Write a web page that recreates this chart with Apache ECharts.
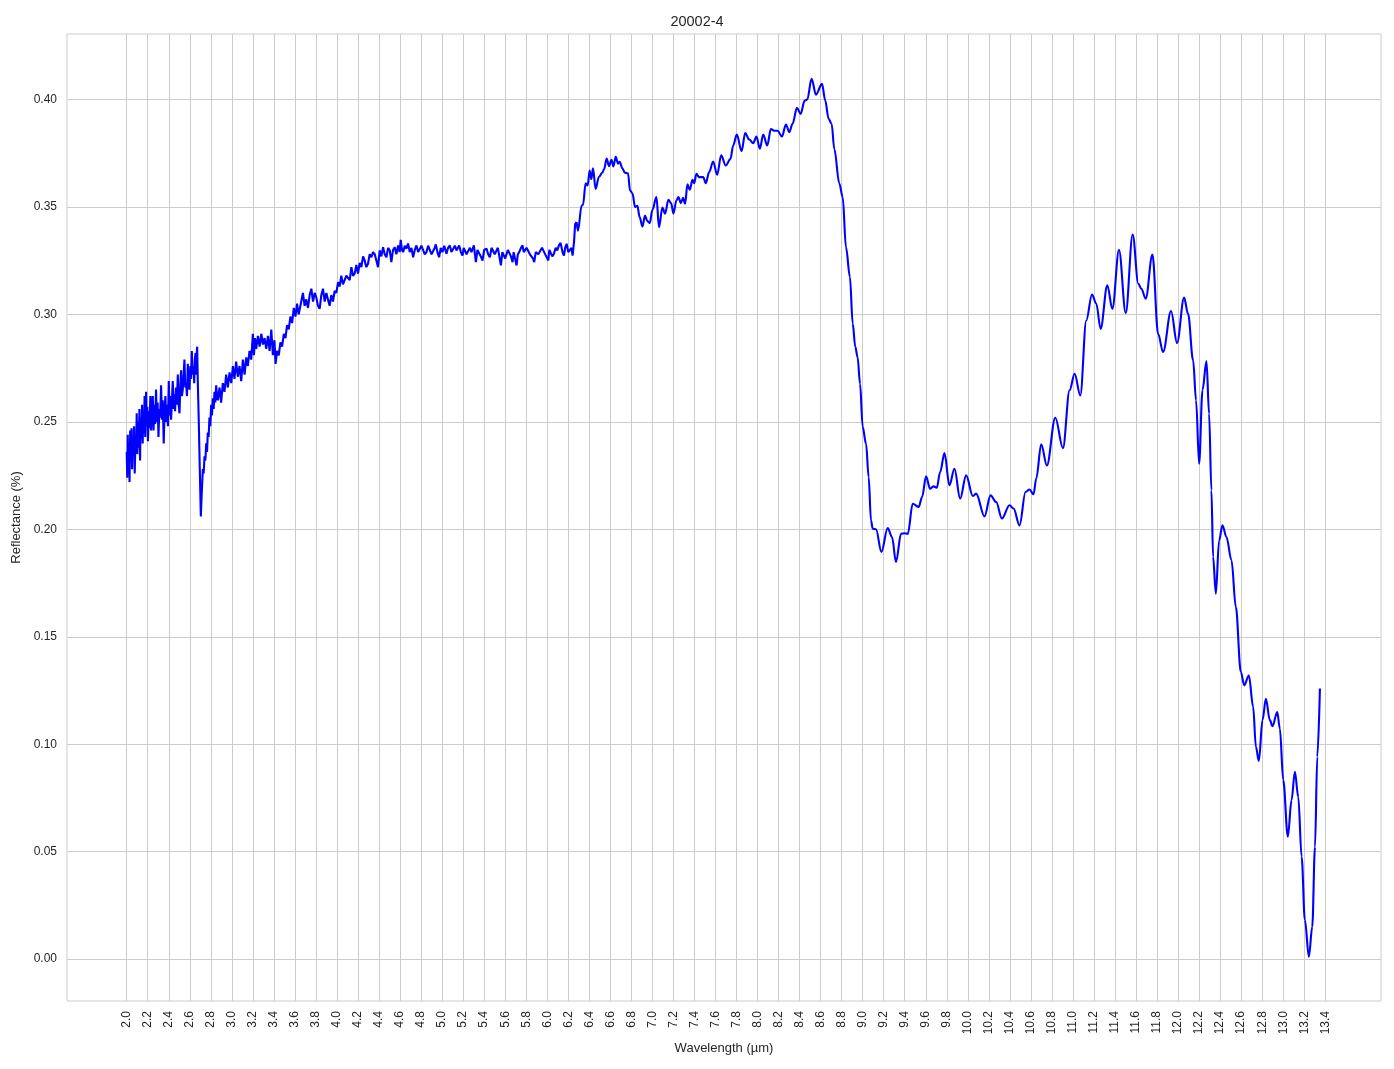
<!DOCTYPE html>
<html>
<head>
<meta charset="utf-8">
<title>20002-4</title>
<script src="https://cdn.jsdelivr.net/npm/echarts@6.0.0/dist/echarts.min.js"></script>
<style>
  html, body { margin: 0; padding: 0; background: #fff; }
  #chart { width: 1394px; height: 1069px; }
</style>
</head>
<body>
<div id="chart"></div>
<script>
// noisy part of the spectrum, 2.0 - 6.28 um (drawn without smoothing)
const waveA = [
  2.000, 2.005, 2.010, 2.016, 2.022, 2.027, 2.033, 2.040, 2.046, 2.051, 2.057, 2.063, 2.070, 2.076, 2.083, 2.089,
  2.095, 2.101, 2.108, 2.114, 2.121, 2.127, 2.133, 2.139, 2.146, 2.152, 2.158, 2.164, 2.170, 2.176, 2.184, 2.190,
  2.196, 2.202, 2.210, 2.217, 2.225, 2.232, 2.240, 2.248, 2.255, 2.263, 2.270, 2.279, 2.286, 2.294, 2.302, 2.310,
  2.318, 2.327, 2.335, 2.343, 2.352, 2.360, 2.368, 2.376, 2.384, 2.392, 2.400, 2.408, 2.415, 2.422, 2.430, 2.438,
  2.446, 2.453, 2.460, 2.468, 2.476, 2.486, 2.494, 2.502, 2.510, 2.517, 2.525, 2.533, 2.541, 2.549, 2.557, 2.565,
  2.573, 2.581, 2.589, 2.597, 2.605, 2.612, 2.619, 2.627, 2.635, 2.642, 2.648, 2.654, 2.660, 2.665, 2.670, 2.676,
  2.686, 2.695, 2.705, 2.712, 2.724, 2.732, 2.740, 2.748, 2.756, 2.764, 2.771, 2.779, 2.787, 2.795, 2.803, 2.811,
  2.819, 2.827, 2.835, 2.843, 2.851, 2.859, 2.867, 2.883, 2.898, 2.914, 2.930, 2.946, 2.962, 2.978, 2.994, 3.010,
  3.025, 3.041, 3.057, 3.073, 3.089, 3.105, 3.121, 3.137, 3.152, 3.168, 3.184, 3.200, 3.210, 3.220, 3.232, 3.248,
  3.264, 3.280, 3.295, 3.311, 3.327, 3.343, 3.359, 3.375, 3.390, 3.405, 3.416, 3.430, 3.446, 3.462, 3.478, 3.494,
  3.510, 3.525, 3.541, 3.557, 3.573, 3.589, 3.605, 3.620, 3.635, 3.644, 3.660, 3.676, 3.692, 3.708, 3.724, 3.740,
  3.756, 3.772, 3.788, 3.803, 3.819, 3.835, 3.851, 3.867, 3.883, 3.899, 3.914, 3.930, 3.946, 3.962, 3.978, 3.994,
  4.010, 4.025, 4.041, 4.057, 4.073, 4.089, 4.105, 4.121, 4.137, 4.152, 4.168, 4.184, 4.200, 4.216, 4.232, 4.248,
  4.263, 4.279, 4.295, 4.311, 4.327, 4.343, 4.359, 4.375, 4.390, 4.406, 4.422, 4.438, 4.454, 4.470, 4.486, 4.502,
  4.517, 4.533, 4.549, 4.565, 4.581, 4.596, 4.606, 4.618, 4.629, 4.645, 4.660, 4.676, 4.692, 4.708, 4.724, 4.740,
  4.756, 4.772, 4.787, 4.803, 4.819, 4.835, 4.851, 4.867, 4.883, 4.899, 4.914, 4.930, 4.940, 4.955, 4.971, 4.987,
  5.003, 5.020, 5.041, 5.057, 5.073, 5.089, 5.105, 5.121, 5.137, 5.150, 5.162, 5.178, 5.194, 5.205, 5.216, 5.232,
  5.248, 5.264, 5.279, 5.302, 5.321, 5.336, 5.352, 5.368, 5.384, 5.400, 5.422, 5.438, 5.454, 5.470, 5.486, 5.500,
  5.517, 5.530, 5.543, 5.559, 5.573, 5.587, 5.600, 5.613, 5.625, 5.638, 5.655, 5.670, 5.680, 5.692, 5.708, 5.720,
  5.733, 5.750, 5.765, 5.776, 5.787, 5.803, 5.819, 5.835, 5.851, 5.865, 5.876, 5.890, 5.898, 5.915, 5.930, 5.950,
  5.968, 5.990, 6.010, 6.020, 6.032, 6.048, 6.063, 6.080, 6.095, 6.110, 6.127, 6.145, 6.159, 6.170, 6.184, 6.200,
  6.216, 6.230, 6.241, 6.255, 6.265, 6.279
];
const reflA = [
  0.236, 0.224, 0.244, 0.226, 0.240, 0.222, 0.246, 0.232, 0.247, 0.228, 0.242, 0.235, 0.248, 0.226, 0.241, 0.236,
  0.254, 0.235, 0.250, 0.238, 0.256, 0.232, 0.252, 0.242, 0.258, 0.240, 0.254, 0.245, 0.262, 0.243, 0.264, 0.248,
  0.257, 0.241, 0.255, 0.247, 0.262, 0.246, 0.258, 0.262, 0.246, 0.258, 0.249, 0.265, 0.250, 0.259, 0.243, 0.256,
  0.252, 0.267, 0.251, 0.260, 0.240, 0.255, 0.262, 0.250, 0.258, 0.248, 0.269, 0.253, 0.262, 0.251, 0.260, 0.269,
  0.256, 0.263, 0.255, 0.266, 0.258, 0.272, 0.258, 0.254, 0.267, 0.274, 0.262, 0.265, 0.272, 0.279, 0.266, 0.268,
  0.262, 0.277, 0.268, 0.265, 0.276, 0.270, 0.283, 0.272, 0.276, 0.268, 0.279, 0.282, 0.272, 0.281, 0.285, 0.269,
  0.249, 0.228, 0.206, 0.215, 0.228, 0.226, 0.234, 0.232, 0.240, 0.236, 0.245, 0.243, 0.252, 0.248, 0.258, 0.253,
  0.261, 0.256, 0.264, 0.259, 0.267, 0.262, 0.260, 0.266, 0.259, 0.268, 0.264, 0.272, 0.266, 0.273, 0.268, 0.276,
  0.270, 0.278, 0.271, 0.276, 0.269, 0.279, 0.272, 0.280, 0.276, 0.283, 0.279, 0.291, 0.281, 0.289, 0.284, 0.290,
  0.285, 0.291, 0.286, 0.289, 0.284, 0.290, 0.283, 0.293, 0.281, 0.288, 0.277, 0.283, 0.281, 0.287, 0.285, 0.291,
  0.289, 0.295, 0.293, 0.299, 0.296, 0.303, 0.299, 0.305, 0.300, 0.302, 0.306, 0.310, 0.304, 0.307, 0.303, 0.309,
  0.312, 0.306, 0.310, 0.308, 0.304, 0.3026, 0.309, 0.312, 0.306, 0.310, 0.307, 0.304, 0.309, 0.306, 0.311, 0.310,
  0.315, 0.313, 0.318, 0.314, 0.3142, 0.318, 0.3181, 0.316, 0.322, 0.318, 0.319, 0.323, 0.319, 0.324, 0.322, 0.327,
  0.3251, 0.322, 0.3236, 0.328, 0.3266, 0.329, 0.328, 0.325, 0.322, 0.3298, 0.327, 0.3313, 0.328, 0.3266, 0.331, 0.3298,
  0.3243, 0.330, 0.3313, 0.328, 0.3321, 0.329, 0.3347, 0.330, 0.329, 0.332, 0.3306, 0.333, 0.329, 0.331, 0.3266, 0.330,
  0.3321, 0.329, 0.3282, 0.332, 0.3313, 0.328, 0.329, 0.332, 0.3313, 0.328, 0.3282, 0.331, 0.3326, 0.329, 0.3266, 0.331,
  0.329, 0.332, 0.3282, 0.331, 0.3321, 0.329, 0.329, 0.332, 0.3298, 0.331, 0.3321, 0.329, 0.3274, 0.331, 0.3306, 0.328,
  0.3282, 0.331, 0.329, 0.3321, 0.3243, 0.330, 0.3306, 0.327, 0.3251, 0.330, 0.3306, 0.328, 0.3266, 0.331, 0.3313, 0.328,
  0.3282, 0.331, 0.3313, 0.3228, 0.329, 0.3298, 0.326, 0.3251, 0.330, 0.3306, 0.327, 0.3243, 0.329, 0.3298, 0.3228, 0.328,
  0.3290, 0.331, 0.3321, 0.329, 0.3282, 0.331, 0.3313, 0.328, 0.3274, 0.326, 0.3243, 0.329, 0.3298, 0.328, 0.3282, 0.331,
  0.3313, 0.327, 0.3251, 0.330, 0.3298, 0.327, 0.3282, 0.331, 0.3298, 0.332, 0.3333, 0.329, 0.3274, 0.331, 0.3329, 0.329,
  0.3282, 0.331, 0.3274, 0.334, 0.342, 0.343
];

// smoother part, 6.28 - 13.35 um
const waveB = [
  6.279, 6.292, 6.327, 6.340, 6.365, 6.384, 6.403, 6.419, 6.435, 6.460, 6.492, 6.524, 6.540, 6.565, 6.587, 6.610,
  6.629, 6.651, 6.673, 6.689, 6.714, 6.737, 6.768, 6.787, 6.810, 6.835, 6.857, 6.879, 6.905, 6.930, 6.952, 6.975,
  7.000, 7.038, 7.063, 7.095, 7.121, 7.152, 7.178, 7.200, 7.229, 7.248, 7.270, 7.292, 7.311, 7.333, 7.356, 7.381,
  7.397, 7.419, 7.444, 7.483, 7.508, 7.540, 7.578, 7.616, 7.654, 7.698, 7.743, 7.768, 7.803, 7.848, 7.883, 7.921,
  7.959, 7.990, 8.022, 8.054, 8.092, 8.127, 8.159, 8.190, 8.232, 8.270, 8.302, 8.333, 8.375, 8.410, 8.448, 8.473,
  8.514, 8.556, 8.613, 8.644, 8.676, 8.705, 8.730, 8.778, 8.810, 8.841, 8.879, 8.905, 8.930, 8.952, 8.975, 9.000,
  9.032, 9.057, 9.079, 9.095, 9.127, 9.178, 9.238, 9.279, 9.317, 9.365, 9.397, 9.429, 9.476, 9.533, 9.565, 9.603,
  9.641, 9.673, 9.705, 9.737, 9.778, 9.825, 9.873, 9.927, 9.984, 10.048, 10.079, 10.159, 10.216, 10.270, 10.324, 10.397,
  10.435, 10.492, 10.549, 10.587, 10.625, 10.651, 10.698, 10.752, 10.832, 10.905, 10.968, 11.016, 11.070, 11.127, 11.181, 11.222,
  11.263, 11.327, 11.375, 11.438, 11.502, 11.568, 11.622, 11.651, 11.692, 11.756, 11.810, 11.857, 11.933, 11.990, 12.057, 12.095,
  12.143, 12.171, 12.200, 12.232, 12.270, 12.295, 12.317, 12.333, 12.359, 12.390, 12.422, 12.460, 12.508, 12.549, 12.597, 12.629,
  12.673, 12.714, 12.740, 12.768, 12.803, 12.835, 12.873, 12.898, 12.943, 12.968, 13.000, 13.044, 13.079, 13.111, 13.143, 13.175,
  13.206, 13.244, 13.276, 13.302, 13.324, 13.349
];
const reflB = [
  0.343, 0.339, 0.3507, 0.351, 0.361, 0.360, 0.367, 0.363, 0.368, 0.3584, 0.364, 0.366, 0.3675, 0.3725, 0.369, 0.372,
  0.3689, 0.3733, 0.3702, 0.371, 0.368, 0.366, 0.3657, 0.3577, 0.3564, 0.350, 0.3505, 0.3453, 0.3409, 0.346, 0.3434, 0.3425,
  0.3487, 0.3546, 0.3406, 0.3497, 0.3469, 0.3534, 0.3518, 0.347, 0.3531, 0.3546, 0.3518, 0.3543, 0.3515, 0.3605, 0.358, 0.3626,
  0.3611, 0.3654, 0.3639, 0.3639, 0.3611, 0.3663, 0.3712, 0.365, 0.374, 0.3693, 0.3724, 0.3786, 0.3837, 0.376, 0.3844, 0.3814,
  0.3797, 0.3828, 0.3771, 0.3837, 0.3786, 0.3863, 0.3855, 0.3855, 0.3828, 0.3884, 0.3848, 0.3887, 0.3961, 0.3933, 0.3995, 0.400,
  0.4096, 0.4023, 0.4073, 0.3995, 0.391, 0.3886, 0.377, 0.3609, 0.3546, 0.3313, 0.3174, 0.2957, 0.2849, 0.280, 0.2677, 0.2477,
  0.2398, 0.2243, 0.2042, 0.2003, 0.200, 0.1895, 0.2006, 0.1964, 0.1848, 0.1979, 0.1982, 0.1979, 0.2119, 0.2104, 0.215, 0.2247,
  0.2189, 0.220, 0.2194, 0.2267, 0.2355, 0.2205, 0.2282, 0.2143, 0.2251, 0.2155, 0.2166, 0.206, 0.2158, 0.2127, 0.205, 0.2112,
  0.2097, 0.2018, 0.2174, 0.2185, 0.2163, 0.2236, 0.2396, 0.2297, 0.2519, 0.2378, 0.2647, 0.2724, 0.2623, 0.2972, 0.3093, 0.305,
  0.2933, 0.3135, 0.3026, 0.3301, 0.3006, 0.3372, 0.3143, 0.3119, 0.3073, 0.3279, 0.291, 0.2825, 0.3016, 0.2867, 0.3078, 0.3003,
  0.2786, 0.260, 0.2305, 0.2647, 0.2783, 0.2538, 0.2181, 0.1872, 0.170, 0.1948, 0.2019, 0.1964, 0.1856, 0.1639, 0.1336, 0.1274,
  0.132, 0.1174, 0.0988, 0.0922, 0.1112, 0.1211, 0.1112, 0.1084, 0.115, 0.1073, 0.0833, 0.057, 0.074, 0.0872, 0.0755, 0.0476,
  0.0182, 0.0011, 0.015, 0.0522, 0.0941, 0.1259
];

const xTicks = [2.0, 2.2, 2.4, 2.6, 2.8, 3.0, 3.2, 3.4, 3.6, 3.8, 4.0, 4.2, 4.4, 4.6, 4.8, 5.0, 5.2, 5.4, 5.6, 5.8,
  6.0, 6.2, 6.4, 6.6, 6.8, 7.0, 7.2, 7.4, 7.6, 7.8, 8.0, 8.2, 8.4, 8.6, 8.8, 9.0, 9.2, 9.4, 9.6, 9.8,
  10.0, 10.2, 10.4, 10.6, 10.8, 11.0, 11.2, 11.4, 11.6, 11.8, 12.0, 12.2, 12.4, 12.6, 12.8, 13.0, 13.2, 13.4];
const yTicks = [0.00, 0.05, 0.10, 0.15, 0.20, 0.25, 0.30, 0.35, 0.40];

const font = '"Liberation Sans", Arial, Helvetica, sans-serif';
const textColor = '#262626';
const gridColor = '#cccccc';

const chart = echarts.init(document.getElementById('chart'));
chart.setOption({
  animation: false,
  backgroundColor: '#ffffff',
  title: {
    text: '20002-4',
    left: 'center',
    top: 9,
    textStyle: { fontFamily: font, fontSize: 14.5, fontWeight: 'normal', color: textColor }
  },
  grid: {
    left: 67, right: 13, top: 34, bottom: 68,
    show: true,
    borderColor: gridColor,
    borderWidth: 1
  },
  xAxis: {
    type: 'value',
    min: 1.432,
    max: 13.93,
    name: 'Wavelength (µm)',
    nameLocation: 'middle',
    nameGap: 41,
    nameTextStyle: { fontFamily: font, fontSize: 13, color: textColor },
    axisLine: { show: false },
    axisTick: { show: false, customValues: xTicks },
    axisLabel: {
      customValues: xTicks,
      rotate: 90,
      margin: 10,
      fontFamily: font,
      fontSize: 12,
      color: textColor,
      formatter: v => v.toFixed(1)
    },
    splitLine: { show: true, lineStyle: { color: gridColor, width: 1 } }
  },
  yAxis: {
    type: 'value',
    min: -0.0195,
    max: 0.4305,
    name: 'Reflectance (%)',
    nameLocation: 'middle',
    nameGap: 42,
    nameRotate: 90,
    nameTextStyle: { fontFamily: font, fontSize: 13, color: textColor },
    axisLine: { show: false },
    axisTick: { show: false, customValues: yTicks },
    axisLabel: {
      customValues: yTicks,
      margin: 10,
      fontFamily: font,
      fontSize: 12,
      color: textColor,
      formatter: v => v.toFixed(2)
    },
    splitLine: { show: true, lineStyle: { color: gridColor, width: 1 } }
  },
  series: [
    {
      type: 'line',
      data: waveA.map((w, i) => [w, reflA[i]]),
      showSymbol: false,
      lineStyle: { color: '#0000ff', width: 2.1 },
      itemStyle: { color: '#0000ff' }
    },
    {
      type: 'line',
      data: waveB.map((w, i) => [w, reflB[i]]),
      showSymbol: false,
      smooth: 0.35,
      smoothMonotone: 'x',
      lineStyle: { color: '#0000ff', width: 2.1 },
      itemStyle: { color: '#0000ff' }
    }
  ]
});
</script>
</body>
</html>
